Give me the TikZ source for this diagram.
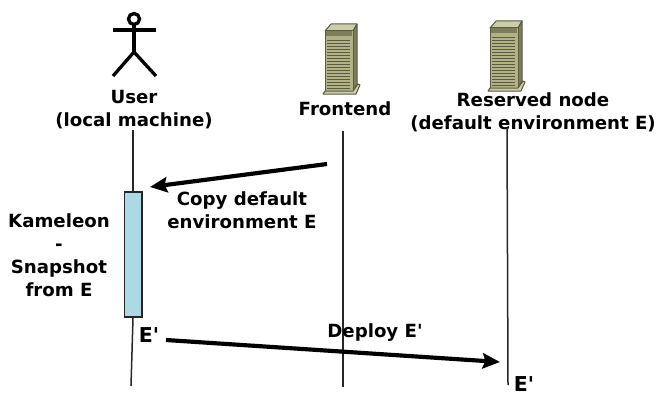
\documentclass[tikz,border=0pt]{standalone}
\usepackage{fontspec}
\setmainfont{DejaVu Sans}
\usepackage{tikz}
\usetikzlibrary{arrows.meta}

\definecolor{srvfront}{RGB}{178,178,135}
\definecolor{srvtop}{RGB}{205,205,170}
\definecolor{srvside}{RGB}{125,125,90}
\definecolor{srvline}{RGB}{90,90,65}
\definecolor{barblue}{RGB}{173,216,230}

\tikzset{
  lbl/.style={font=\bfseries\fontsize{15.5}{19.6}\selectfont, align=center, inner sep=0pt},
  bigl/.style={font=\bfseries\fontsize{17.5}{20}\selectfont, inner sep=0pt},
  lifeline/.style={line width=0.045cm, black!85!white},
  msg/.style={line width=0.125cm, -{Stealth[length=0.52cm, width=0.46cm, inset=0.08cm]}},
  actorline/.style={line width=0.1cm},
  srv/.style={draw=srvline, line width=0.03cm, line join=round}
}

\newcommand{\serverbox}[2]{
\begin{scope}[shift={(#1,#2)}]
\draw[srv, fill=srvtop] (325,31) -- (331,24) -- (357,24) -- (353,31) -- cycle;
\draw[srv, fill=srvside] (353,31) -- (357,24) -- (357,84) -- (353,91) -- cycle;
\draw[srv, fill=srvfront] (325,31) -- (353,31) -- (353,91) -- (325,91) -- cycle;
\draw[srv, fill=srvtop] (323,94) -- (325,91) -- (353,91) -- (358,84) -- (360,85) -- (356,94) -- cycle;
\fill[srvside] (326,31) rectangle (352,36);
\foreach \y in {40,43,...,88} {
  \draw[srvline, line width=0.015cm] (327,\y) -- (350,\y);
}
\end{scope}
}

\begin{document}
\begin{tikzpicture}[x=0.03cm, y=-0.03cm]
\useasboundingbox (0,0) rectangle (657,396);

% actor
\draw[actorline] (134,19) circle (5.5);
\draw[actorline] (113,30) -- (156,30);
\draw[actorline] (134,25) -- (134,52);
\draw[actorline] (113,76) -- (134,52) -- (156,76);

% servers
\serverbox{0}{0}
\serverbox{165}{-3}

% headers
\node[lbl] (user) at (134,109.5) {User\\(local machine)};
\node[lbl] (frontend) at (345,109) {Frontend};
\node[lbl] (reserved) at (533,112.5) {Reserved node\\(default environment E)};

% lifelines
\node[draw=black!85!white, line width=0.05cm, fill=barblue, minimum width=0.52cm,
      minimum height=3.75cm, inner sep=0cm] (bar) at (133,254.5) {};
\coordinate (usertop) at (133,130);
\coordinate (userend) at (131,386);
\coordinate (fronttop) at (343,131);
\coordinate (frontend2) at (343,387);
\coordinate (restop) at (507,128);
\coordinate (resend) at (508,385);
\draw[lifeline] (usertop) -- (bar.north);
\draw[lifeline] (bar.south) -- (userend);
\draw[lifeline] (fronttop) -- (frontend2);
\draw[lifeline] (restop) -- (resend);

% messages
\coordinate (copyfrom) at (327,164);
\coordinate (copyto) at (150,187);
\coordinate (deployfrom) at (166,340);
\coordinate (deployto) at (500,362);
\draw[msg] (copyfrom) -- (copyto);
\draw[msg] (deployfrom) -- (deployto);

\node[lbl] (copy) at (242,210.5) {Copy default\\environment E};
\node[lbl] (kameleon) at (59,255.5) {Kameleon\\-\\Snapshot\\from E};
\node[lbl] (deploy) at (375,333) {Deploy E\textquotesingle};
\node[bigl] (eprime) at (149,335) {E\textquotesingle};
\node[bigl] (eprime2) at (524,384.5) {E\textquotesingle};
\end{tikzpicture}
\end{document}
